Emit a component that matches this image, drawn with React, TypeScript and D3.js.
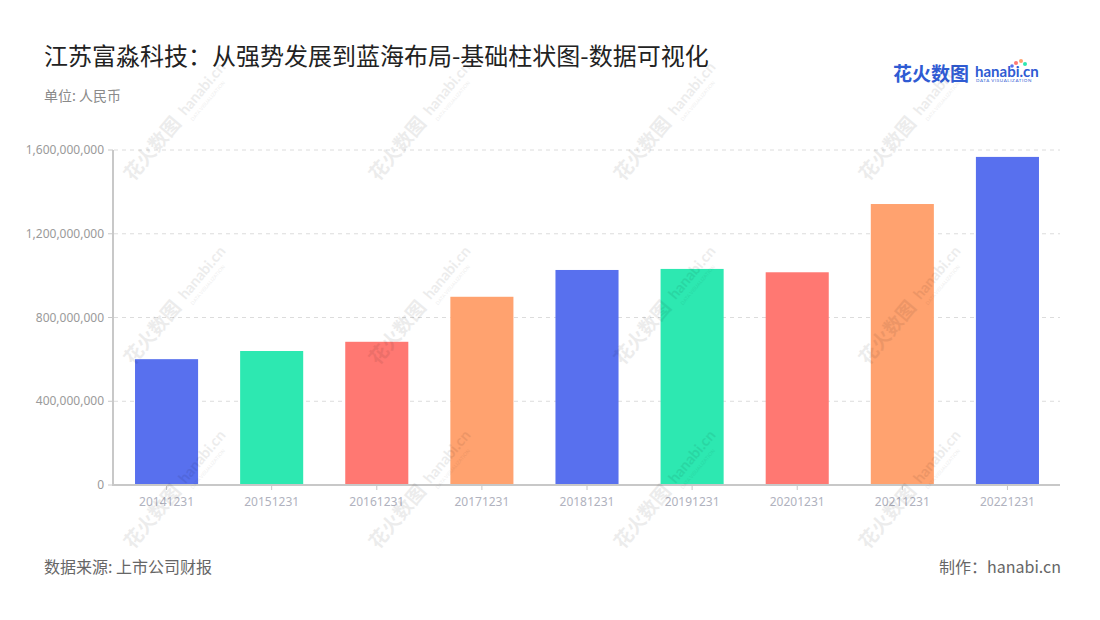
import React from "react";
import * as d3 from "d3";

const categories = ["20141231", "20151231", "20161231", "20171231", "20181231", "20191231", "20201231", "20211231", "20221231"];
const values = [601000000, 640000000, 684000000, 899000000, 1027000000, 1032000000, 1016000000, 1342000000, 1567000000];
const palette = ["#5870EE", "#2DE8B1", "#FF7872", "#FFA26F"];
const yTicks = [0, 400000000, 800000000, 1200000000, 1600000000];

const W = 1100, H = 620;
const left = 114, right = 1060, top = 150, bottom = 485;

function Watermark({ x, y }: { x: number; y: number }) {
  return (
    <g transform={`translate(${x},${y}) rotate(-50)`} opacity={0.07}>
      <text x={0} y={0} fontSize={19} fontWeight={700} fill="#000" fontFamily="'Noto Sans CJK SC'">花火数图</text>
      <text x={84} y={-2} fontSize={15} fontWeight={700} fill="#000" fontFamily="Lato, sans-serif">hanabi.cn</text>
      <text x={85} y={7} fontSize={5} fill="#000" fontFamily="Lato, sans-serif">DATA VISUALIZATION</text>
    </g>
  );
}

export default function App() {
  const x = d3.scaleBand<string>().domain(categories).range([left, right]).paddingInner(0.4).paddingOuter(0.2);
  const y = d3.scaleLinear().domain([0, 1600000000]).range([bottom, top]);
  const fmt = d3.format(",");
  const font = "'Noto Sans CJK SC', 'Noto Sans', sans-serif";

  const wm: { x: number; y: number }[] = [];
  for (let c = 0; c < 4; c++) for (let r = 0; r < 3; r++) wm.push({ x: 133 + c * 245, y: 182 + r * 184 });

  return (
    <svg width={W} height={H} style={{ display: "block", position: "absolute", left: 0, top: 0 }} fontFamily={font}>
      <rect width={W} height={H} fill="#fff" />
      <text x={44} y={65} fontSize={24} fill="#222" fontWeight={400}>江苏富淼科技：从强势发展到蓝海布局-基础柱状图-数据可视化</text>
      <text x={44} y={101} fontSize={14} fill="#8a8a8a">单位: 人民币</text>

      <g>
        <text x={893} y={81} fontSize={19} fontWeight={700} fill="#2F5BD3" fontFamily="'Noto Sans CJK SC'">花火数图</text>
        <text x={975} y={77} fontSize={15} fontWeight={700} fill="#2F5BD3" fontFamily="Lato, sans-serif">hanabi.cn</text>
        <text x={976} y={82} fontSize={4.5} fill="#2F5BD3" fontFamily="Lato, sans-serif" letterSpacing={0.6}>DATA VISUALIZATION</text>
        <circle cx={1016} cy={63} r={2} fill="#FF7872" />
        <circle cx={1021} cy={61} r={2} fill="#FFA26F" />
        <circle cx={1025} cy={64} r={2} fill="#2DE8B1" />
        <circle cx={1012} cy={66} r={1.8} fill="#5870EE" />
      </g>

      {yTicks.map((t) => (
        <g key={t}>
          {t > 0 && <line x1={left} x2={right} y1={y(t)} y2={y(t)} stroke="#dcdcdc" strokeDasharray="4 4" />}
          <line x1={108} x2={113} y1={y(t)} y2={y(t)} stroke="#c8c8c8" />
          <text x={104} y={y(t) + 4} fontSize={12} textAnchor="end" fill="#9a9a9a" fontFamily="'Noto Sans', sans-serif">{fmt(t)}</text>
        </g>
      ))}

      {categories.map((c, i) => (
        <rect key={c} x={x(c)} y={y(values[i])} width={x.bandwidth()} height={bottom - y(values[i])} fill={palette[i % 4]} />
      ))}

      <line x1={113} x2={113} y1={top} y2={bottom} stroke="#c8c8c8" strokeWidth={2} />
      <line x1={112} x2={right} y1={bottom} y2={bottom} stroke="#c8c8c8" strokeWidth={2} />
      {categories.map((c) => {
        const cx = (x(c) as number) + x.bandwidth() / 2;
        return (
          <g key={c}>
            <line x1={cx} x2={cx} y1={bottom} y2={bottom + 5} stroke="#c8c8c8" />
            <text x={cx} y={506} fontSize={12} textAnchor="middle" fill="#b0b2be" fontFamily="'Noto Sans', sans-serif">{c}</text>
          </g>
        );
      })}

      {wm.map((p, i) => <Watermark key={i} x={p.x} y={p.y} />)}

      <text x={44} y={573} fontSize={16} fill="#666">数据来源: 上市公司财报</text>
      <text x={1061} y={573} fontSize={16} fill="#666" textAnchor="end">制作：hanabi.cn</text>
    </svg>
  );
}
